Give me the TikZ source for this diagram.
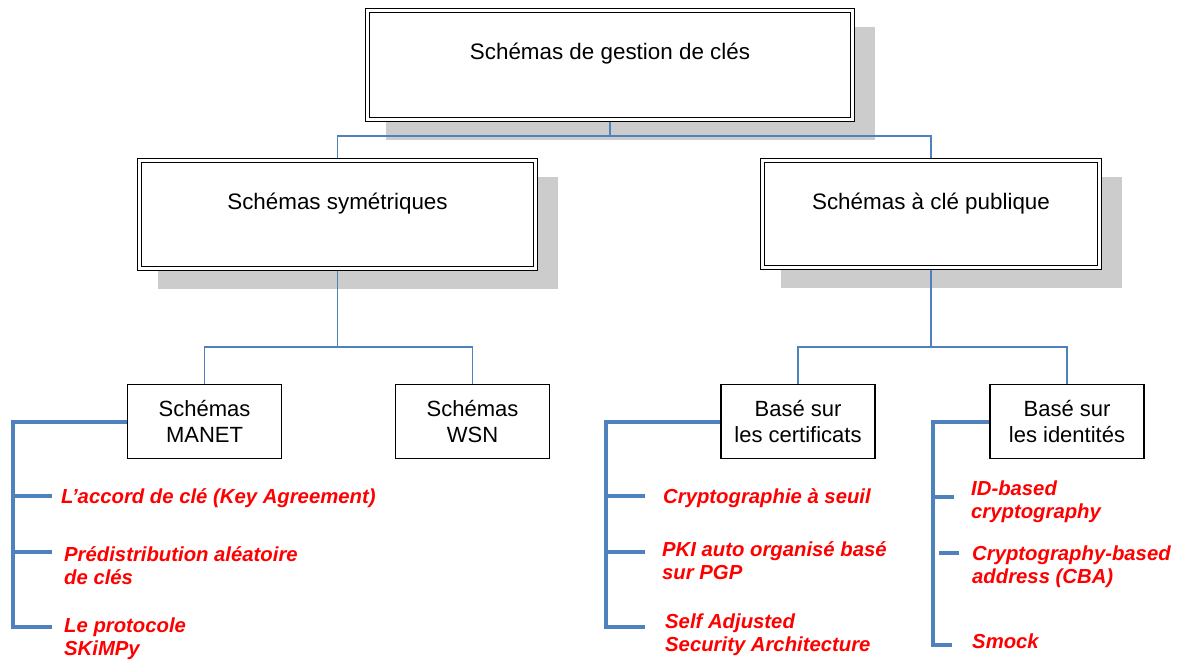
\documentclass[tikz,border=0pt]{standalone}
\usepackage{fontspec}
\setmainfont{Liberation Sans}
\usetikzlibrary{shadows}
\definecolor{linkblue}{HTML}{4F81BD}
\definecolor{shadowgray}{HTML}{CCCCCC}
\definecolor{itemred}{HTML}{FF0000}
\begin{document}
\begin{tikzpicture}[x=1pt,y=-1pt,
  mainbox/.style={draw=black, line width=1.4pt, fill=white, inner sep=0pt,
    drop shadow={shadow xshift=20pt, shadow yshift=-18pt, fill=shadowgray, opacity=1},
    path picture={\draw[black, line width=1pt]
      ([shift={(4pt,-4pt)}]path picture bounding box.north west) rectangle
      ([shift={(-4pt,4pt)}]path picture bounding box.south east);}},
  subbox/.style={draw=black, line width=1.3pt, fill=white, minimum width=154pt,
    minimum height=74pt, inner sep=0pt, align=center,
    font=\fontsize{22}{26}\selectfont},
  boxtext/.style={font=\fontsize{22.4}{26}\selectfont, inner sep=0pt, anchor=base},
  item/.style={font=\fontsize{20.3}{23}\selectfont\bfseries\itshape, text=itemred,
    align=left, inner sep=0pt, anchor=base west},
  link/.style={draw=linkblue, line width=1.2pt},
  bracket/.style={draw=linkblue, line width=4pt},
]
\useasboundingbox (0,0) rectangle (1178,659);

% --- level 1 and 2: double-framed boxes with shadows
\node[mainbox, minimum width=489pt, minimum height=113pt] (root) at (610,65) {};
\node[boxtext] (roottxt) at (610,59) {Schémas de gestion de clés};

\node[mainbox, minimum width=400pt, minimum height=112pt] (sym) at (337.5,214.5) {};
\node[boxtext] (symtxt) at (337.5,209) {Schémas symétriques};

\node[mainbox, minimum width=341pt, minimum height=111pt] (pub) at (931,214) {};
\node[boxtext] (pubtxt) at (931,209) {Schémas à clé publique};

% --- level 3: plain boxes
\node[subbox] (manet) at (204.5,421.5) {Schémas\\MANET};
\node[subbox] (wsn)   at (472.5,421.5) {Schémas\\WSN};
\node[subbox] (cert)  at (798,421.5)   {Basé sur\\les certificats};
\node[subbox] (ident) at (1067,421.5)  {Basé sur\\les identités};

% --- thin connectors
\coordinate (j1) at (610,136);
\draw[link] (root.south) -- (j1);
\draw[link] (sym.north) |- (j1) -| (pub.north);
\coordinate (j2) at (337.5,347);
\draw[link] (sym.south) -- (j2);
\draw[link] (manet.north) |- (j2) -| (wsn.north);
\coordinate (j3) at (931,347);
\draw[link] (pub.south) -- (j3);
\draw[link] (cert.north) |- (j3) -| (ident.north);

% --- MANET list (multi-line items are placed by their last baseline)
\coordinate (mb) at (13,627);
\coordinate (m1) at (13,496);  \coordinate (m1e) at (52,496);
\coordinate (m2) at (13,552);  \coordinate (m2e) at (52,552);
\coordinate (m3e) at (52,627);
\draw[bracket] (manet.west) -| (mb) -- (m3e);
\draw[bracket] (m1) -- (m1e);
\draw[bracket] (m2) -- (m2e);
\node[item] (ka) at (61,503) {L’accord de clé (Key Agreement)};
\node[item] (kp) at (64,584) {Prédistribution aléatoire\\de clés};
\node[item] (ks) at (64,655) {Le protocole\\SKiMPy};

% --- certificate-based list
\coordinate (cb) at (606,627);
\coordinate (c1) at (606,496); \coordinate (c1e) at (645,496);
\coordinate (c2) at (606,552); \coordinate (c2e) at (645,552);
\coordinate (c3e) at (645,627);
\draw[bracket] (cert.west) -| (cb) -- (c3e);
\draw[bracket] (c1) -- (c1e);
\draw[bracket] (c2) -- (c2e);
\node[item] (cs) at (663,503) {Cryptographie à seuil};
\node[item] (cp) at (662,579) {PKI auto organisé basé\\sur PGP};
\node[item] (ca) at (665,651) {Self Adjusted\\Security Architecture};

% --- identity-based list
\coordinate (ib) at (933,645);
\coordinate (i1) at (933,497); \coordinate (i1e) at (954,497);
\coordinate (i2) at (939,553); \coordinate (i2e) at (959,553);
\coordinate (i3e) at (952,645);
\draw[bracket] (ident.west) -| (ib) -- (i3e);
\draw[bracket] (i1) -- (i1e);
\draw[bracket] (i2) -- (i2e);
\node[item] (ii) at (971,518) {ID-based\\cryptography};
\node[item] (ic) at (972,583) {Cryptography-based\\address (CBA)};
\node[item] (im) at (972,648) {Smock};
\end{tikzpicture}
\end{document}
